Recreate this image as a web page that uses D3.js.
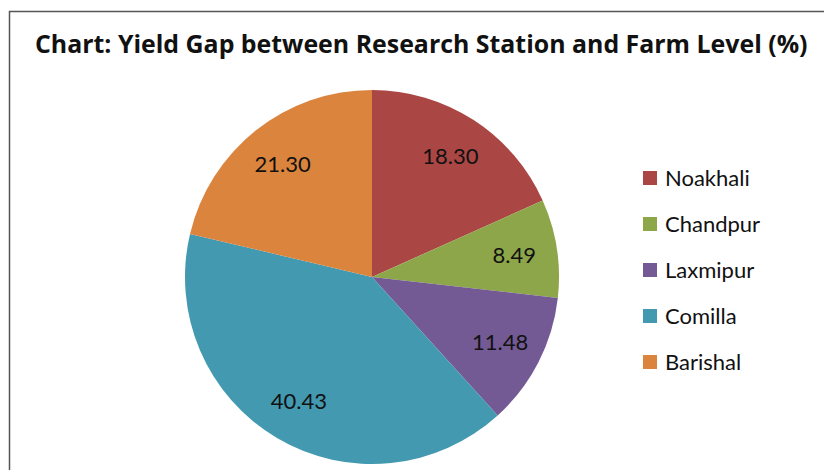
<!DOCTYPE html>
<html lang="en">
<head>
  <meta charset="UTF-8">
  <title>Yield Gap</title>
  <script src="https://d3js.org/d3.v7.min.js"></script>
  <style>
    body { margin: 0; background: #fff; }
    svg { display: block; font-family: Lato, "Open Sans", sans-serif; }
  </style>
</head>
<body>
  <svg id="chart" width="824" height="470"></svg>
  <script>
    const districts = ["Noakhali", "Chandpur", "Laxmipur", "Comilla", "Barishal"];
    const gaps = [18.30, 8.49, 11.48, 40.43, 21.30];
    const colors = ["#aa4644", "#8ea64a", "#735a94", "#4299b0", "#db843d"];

    const svg = d3.select("#chart");
    const cx = 372, cy = 277, radius = 187;

    // frame (runs off right and bottom edges like the screenshot)
    svg.append("rect")
      .attr("x", 9.5).attr("y", 11.5)
      .attr("width", 900).attr("height", 600)
      .attr("fill", "none")
      .attr("stroke", "#555")
      .attr("stroke-width", 1.5);

    const title = svg.append("text")
      .attr("x", 35).attr("y", 53)
      .attr("font-family", "'Open Sans', sans-serif")
      .attr("font-size", 22)
      .attr("font-weight", "bold")
      .attr("fill", "#111")
      .text("Chart: Yield Gap between Research Station and Farm Level (%)");
    // fit the title to the same span as the original (35 -> ~808)
    const tw = title.node().getComputedTextLength();
    title.attr("font-size", 22 * 773 / tw);

    const color = d3.scaleOrdinal().domain(districts).range(colors);

    const data = districts.map((name, i) => ({ name, value: gaps[i] }));
    const pie = d3.pie().sort(null).value(d => d.value);
    const arc = d3.arc().innerRadius(0).outerRadius(radius);
    const labelArc = d3.arc().innerRadius(radius * 0.77).outerRadius(radius * 0.77);

    const g = svg.append("g").attr("transform", `translate(${cx},${cy})`);
    const arcs = pie(data);

    g.selectAll("path")
      .data(arcs)
      .enter()
      .append("path")
      .attr("d", arc)
      .attr("fill", d => color(d.data.name));

    g.selectAll("text")
      .data(arcs)
      .enter()
      .append("text")
      .attr("transform", d => `translate(${labelArc.centroid(d)})`)
      .attr("text-anchor", "middle")
      .attr("dy", "0.35em")
      .attr("font-size", 22)
      .attr("fill", "#111")
      .text(d => d.data.value.toFixed(2));

    const legend = svg.append("g").attr("transform", "translate(643,178)");
    districts.forEach((name, i) => {
      const row = legend.append("g").attr("transform", `translate(0,${i * 46})`);
      row.append("rect")
        .attr("x", 0).attr("y", -7)
        .attr("width", 14).attr("height", 14)
        .attr("fill", color(name));
      row.append("text")
        .attr("x", 22).attr("dy", "0.35em")
        .attr("font-size", 22)
        .attr("fill", "#111")
        .text(name);
    });
  </script>
</body>
</html>
